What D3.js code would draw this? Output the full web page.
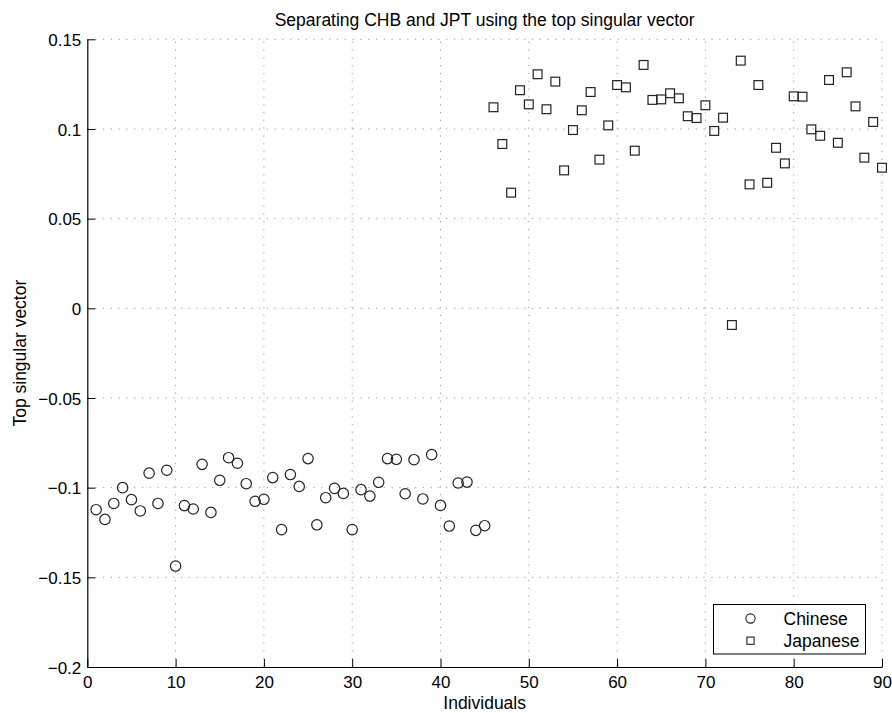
<!DOCTYPE html>
<html>
<head>
<meta charset="utf-8">
<script src="https://cdn.jsdelivr.net/npm/d3@7"></script>
<style>
  body { margin: 0; background: #fff; }
  svg { display: block; font-family: "Liberation Sans", Arial, Helvetica, sans-serif; }
</style>
</head>
<body>
<div id="chart"></div>
<script>
// values, individual index = position + 1
const chinese = [
  -0.1123, -0.1177, -0.1088, -0.1000, -0.1067, -0.1130, -0.0919, -0.1088, -0.0903, -0.1437,
  -0.1100, -0.1119, -0.0870, -0.1138, -0.0959, -0.0833, -0.0864, -0.0978, -0.1076, -0.1065,
  -0.0944, -0.1234, -0.0927, -0.0993, -0.0838, -0.1207, -0.1056, -0.1004, -0.1032, -0.1234,
  -0.1011, -0.1047, -0.0970, -0.0838, -0.0842, -0.1034, -0.0844, -0.1063, -0.0816, -0.1099,
  -0.1214, -0.0974, -0.0969, -0.1238, -0.1212
];
const japanese = [
  0.1121, 0.0916, 0.0645, 0.1216, 0.1137, 0.1305, 0.1110, 0.1264, 0.0769, 0.0994,
  0.1104, 0.1206, 0.0829, 0.1020, 0.1245, 0.1232, 0.0879, 0.1357, 0.1162, 0.1165,
  0.1199, 0.1171, 0.1071, 0.1061, 0.1132, 0.0989, 0.1063, -0.0093, 0.1381, 0.0691,
  0.1245, 0.0700, 0.0895, 0.0808, 0.1182, 0.1180, 0.0998, 0.0962, 0.1273, 0.0923,
  0.1316, 0.1126, 0.0840, 0.1039, 0.0784
];
const xTicks = [0, 10, 20, 30, 40, 50, 60, 70, 80, 90];
const yTicks = [0.15, 0.1, 0.05, 0, -0.05, -0.1, -0.15, -0.2];
const legendLabels = ["Chinese", "Japanese"];

const W = 892, H = 713;
const margin = {top: 39.3, right: 10, bottom: 46, left: 87.3};

const svg = d3.select("#chart").append("svg")
    .attr("width", W)
    .attr("height", H);

const x = d3.scaleLinear().domain([0, 90]).range([margin.left, W - margin.right]);
const y = d3.scaleLinear().domain([-0.2, 0.15]).range([H - margin.bottom, margin.top]);

const fmt = v => (v < 0 ? "\u2212" : "") + d3.format("")(Math.abs(+v.toFixed(2)));

// grid
const grid = svg.append("g").attr("stroke", "#a0a0a0").attr("stroke-width", 1)
    .attr("stroke-dasharray", "1.3 6.5").attr("fill", "none");
grid.selectAll("line.gx").data(xTicks.slice(1)).enter().append("line")
    .attr("x1", d => x(d)).attr("x2", d => x(d))
    .attr("y1", y(-0.2)).attr("y2", y(0.15));
grid.selectAll("line.gy").data(yTicks.slice(0, -1)).enter().append("line")
    .attr("x1", x(0)).attr("x2", x(90))
    .attr("y1", d => y(d)).attr("y2", d => y(d));

// axes, ticks pointing inward like MATLAB
const xAxis = svg.append("g")
    .attr("transform", `translate(0,${y(-0.2)})`)
    .call(d3.axisBottom(x).tickValues(xTicks).tickSizeInner(-8).tickSizeOuter(0).tickPadding(11).tickFormat(d => d));
const yAxis = svg.append("g")
    .attr("transform", `translate(${x(0)},0)`)
    .call(d3.axisLeft(y).tickValues(yTicks).tickSizeInner(-8).tickSizeOuter(0).tickPadding(7).tickFormat(fmt));
[xAxis, yAxis].forEach(a => {
  a.select(".domain").attr("stroke", "#000").attr("stroke-width", 1.2);
  a.selectAll(".tick line").attr("stroke", "#000").attr("stroke-width", 1);
  a.selectAll(".tick text").attr("font-size", 17).attr("fill", "#000")
    .attr("font-family", "Liberation Sans, Arial, sans-serif");
});
xAxis.selectAll(".tick text").attr("dy", "0.75em").attr("y", 8);
yAxis.selectAll(".tick text").attr("x", -6).attr("dy", "0.36em");

// title and labels
svg.append("text")
    .attr("x", (x(0) + x(90)) / 2).attr("y", 26)
    .attr("text-anchor", "middle").attr("font-size", 17.5)
    .text("Separating CHB and JPT using the top singular vector");
svg.append("text")
    .attr("x", (x(0) + x(90)) / 2).attr("y", 709)
    .attr("text-anchor", "middle").attr("font-size", 17.5)
    .text("Individuals");
svg.append("text")
    .attr("transform", `translate(26,${(y(-0.2) + y(0.15)) / 2}) rotate(-90)`)
    .attr("text-anchor", "middle").attr("font-size", 17.5)
    .text("Top singular vector");

// points
svg.append("g").selectAll("circle")
    .data(chinese).enter().append("circle")
    .attr("cx", (d, i) => x(i + 1))
    .attr("cy", d => y(d))
    .attr("r", 5.2)
    .attr("fill", "none")
    .attr("stroke", "#222")
    .attr("stroke-width", 1.2);

const sq = 8.8;
svg.append("g").selectAll("rect")
    .data(japanese).enter().append("rect")
    .attr("x", (d, i) => x(i + 46) - sq / 2)
    .attr("y", d => y(d) - sq / 2)
    .attr("width", sq).attr("height", sq)
    .attr("fill", "none")
    .attr("stroke", "#222")
    .attr("stroke-width", 1.2);

// legend
const lg = svg.append("g").attr("transform", "translate(713.5,604.5)");
lg.append("rect").attr("width", 152).attr("height", 49.5)
    .attr("fill", "#fff").attr("stroke", "#000").attr("stroke-width", 1);
lg.append("circle").attr("cx", 37).attr("cy", 14).attr("r", 4.6)
    .attr("fill", "none").attr("stroke", "#222").attr("stroke-width", 1.1);
lg.append("rect").attr("x", 37 - 3.6).attr("y", 36.2 - 3.6).attr("width", 7.2).attr("height", 7.2)
    .attr("fill", "none").attr("stroke", "#222").attr("stroke-width", 1.1);
lg.selectAll("text.lab").data(legendLabels).enter().append("text")
    .attr("x", 70).attr("y", (d, i) => 20.5 + i * 21.7)
    .attr("font-size", 17.5)
    .text(d => d);
</script>
</body>
</html>
